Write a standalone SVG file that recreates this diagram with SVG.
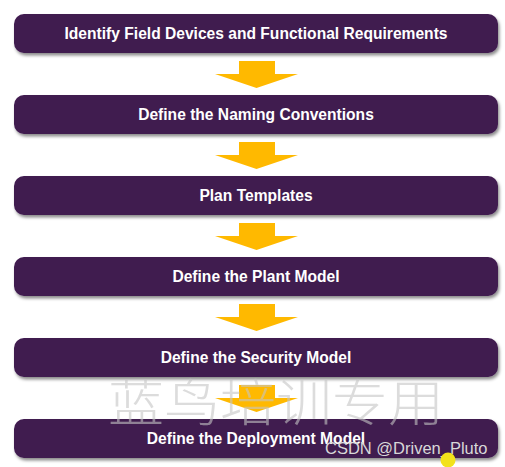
<svg xmlns="http://www.w3.org/2000/svg" width="505" height="467" viewBox="0 0 505 467">
<style>
.box{fill:#3f1a4f;filter:url(#sh)}
.lbl{font-family:"Liberation Sans",Arial,sans-serif;font-weight:bold;font-size:15.6px;fill:#ffffff;text-anchor:middle}
.arr{fill:#ffb900}
.wm{font-family:"Noto Sans CJK SC",serif;font-size:50px;font-weight:300;fill:#c4c4c4;fill-opacity:0.6}
.cs{font-family:"Liberation Sans",Arial,sans-serif;font-size:16.5px;fill:#d8d8d8}
</style>
<defs>
<filter id="sh" x="-5%" y="-30%" width="110%" height="170%">
<feDropShadow dx="1.5" dy="2.5" stdDeviation="1.5" flood-color="#000" flood-opacity="0.45"/>
</filter>
<path id="ar" d="M239 61 H275 V74 H298 L256.5 88 L215 74 H239 Z"/>
</defs>
<g id="connectors">
<use href="#ar" class="arr"/>
<use href="#ar" class="arr" y="81"/>
<use href="#ar" class="arr" y="162"/>
<use href="#ar" class="arr" y="243"/>
<use href="#ar" class="arr" y="324"/>
</g>
<g id="n1"><rect class="box" x="14" y="14" width="484" height="39" rx="10"/><text class="lbl" x="256" y="38.5">Identify Field Devices and Functional Requirements</text></g>
<g id="n2"><rect class="box" x="14" y="95" width="484" height="39" rx="10"/><text class="lbl" x="256" y="119.5">Define the Naming Conventions</text></g>
<g id="n3"><rect class="box" x="14" y="176" width="484" height="39" rx="10"/><text class="lbl" x="256" y="200.5">Plan Templates</text></g>
<g id="n4"><rect class="box" x="14" y="257" width="484" height="39" rx="10"/><text class="lbl" x="256" y="281.5">Define the Plant Model</text></g>
<g id="n5"><rect class="box" x="14" y="338" width="484" height="39" rx="10"/><text class="lbl" x="256" y="362.5">Define the Security Model</text></g>
<g id="n6"><rect class="box" x="14" y="419" width="484" height="39" rx="10"/><text class="lbl" x="256" y="443.5">Define the Deployment Model</text></g>
<text class="wm" x="108" y="421" textLength="336" lengthAdjust="spacingAndGlyphs">蓝鸟培训专用</text>
<text class="cs" x="325" y="454">CSDN @Driven_Pluto</text>
<circle cx="448" cy="460" r="7.5" fill="#f2e21b"/>
</svg>
